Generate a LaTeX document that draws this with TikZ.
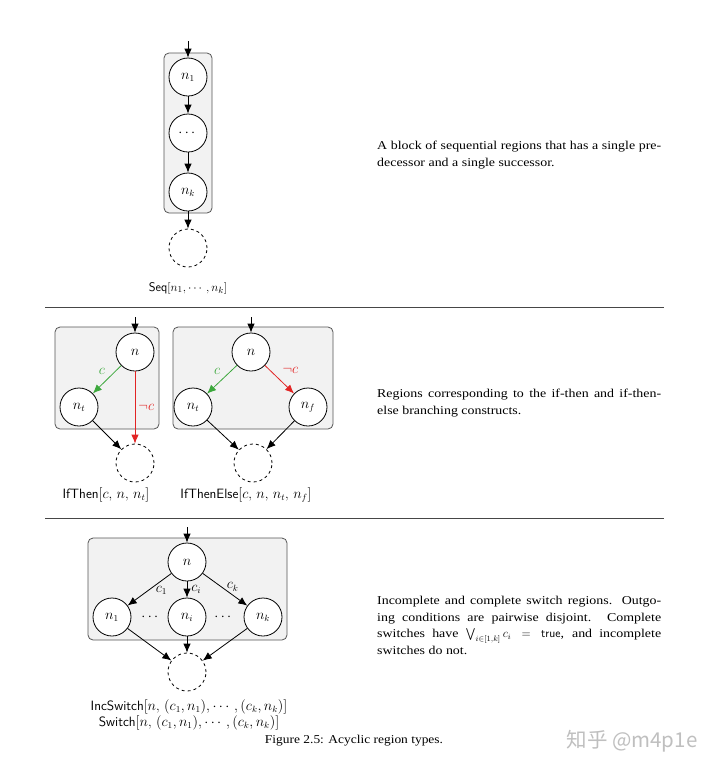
\documentclass[tikz,border=0pt]{standalone}
\usepackage{amsmath,amssymb}
\usepackage{fontspec}
\usetikzlibrary{arrows.meta}
\newfontfamily\parafont[FakeStretch=1.16]{Liberation Serif}
\newfontfamily\capfont[FakeStretch=1.12]{Liberation Serif}
\newfontfamily\cjkfont{Noto Sans CJK SC}
\definecolor{condgreen}{RGB}{60,168,60}
\definecolor{condred}{RGB}{226,36,36}
\definecolor{regionfill}{RGB}{242,242,242}
\definecolor{regionline}{RGB}{85,85,85}
\definecolor{rulecol}{RGB}{70,70,70}
\tikzset{
  st/.style={circle, draw, fill=white, minimum size=38pt, inner sep=0pt, line width=0.8pt},
  ghost/.style={circle, draw, dash pattern=on 3pt off 3pt, minimum size=38pt, inner sep=0pt, line width=0.8pt},
  region/.style={draw=regionline, fill=regionfill, rounded corners=5pt, line width=0.8pt, inner sep=0pt},
  arr/.style={-{Latex[length=9pt,width=7.5pt]}, line width=0.8pt},
  para/.style={font=\parafont\fontsize{12}{16.5}\selectfont, text width=284pt, align=justify, inner sep=0pt, anchor=north west},
  sectrule/.style={draw=rulecol, line width=0.8pt},
  lbl/.style={inner sep=3pt},
}
\begin{document}
\begin{tikzpicture}[x=1pt,y=-1pt, font=\fontsize{13.5}{15}\selectfont]
\useasboundingbox[fill=white] (0,0) rectangle (720,772);

% ---------- Seq ----------
\node[region, minimum width=48pt, minimum height=160pt] (seqbox) at (188,133) {};
\node[st] (s1) at (188,77) {$n_1$};
\node[st] (s2) at (188,133) {$\cdots$};
\node[st] (sk) at (188,192) {$n_k$};
\node[ghost] (sx) at (188,248) {};
\coordinate (sin) at (188,41);
\draw[arr] (sin) -- (s1);
\draw[arr] (s1) -- (s2);
\draw[arr] (s2) -- (sk);
\draw[arr] (sk) -- (sx);
\node[font=\fontsize{12.5}{14}\selectfont] (seqlbl) at (188,288) {\textsf{Seq}$[n_1, \cdots, n_k]$};

\node[para] (p1) at (377,141) {A block of sequential regions that has a single pre-\linebreak decessor and a single successor.};

\draw[sectrule] (45,307) -- (664,307);

% ---------- IfThen ----------
\node[region, minimum width=104pt, minimum height=102pt] (itbox) at (107,378) {};
\node[st] (itn) at (135,352) {$n$};
\node[st] (itt) at (79,407) {$n_t$};
\node[ghost] (itx) at (135,463) {};
\coordinate (itin) at (135,317);
\draw[arr] (itin) -- (itn);
\draw[arr, condgreen] (itn) -- node[lbl, pos=0.45, above left] {$c$} (itt);
\draw[arr, condred] (itn) -- node[lbl, pos=0.5, right] {$\neg c$} (itx);
\draw[arr] (itt) -- (itx);
\node (itlbl) at (106,495) {\textsf{IfThen}$[c$, $n$, $n_t]$};

% ---------- IfThenElse ----------
\node[region, minimum width=160pt, minimum height=102pt] (itebox) at (253,378) {};
\node[st] (iten) at (251,352) {$n$};
\node[st] (itet) at (193,407) {$n_t$};
\node[st] (itef) at (308,407) {$n_f$};
\node[ghost] (itex) at (253,463) {};
\coordinate (itein) at (251,317);
\draw[arr] (itein) -- (iten);
\draw[arr, condgreen] (iten) -- node[lbl, pos=0.45, above left] {$c$} (itet);
\draw[arr, condred] (iten) -- node[lbl, pos=0.42, above right, xshift=2pt] {$\neg c$} (itef);
\draw[arr] (itet) -- (itex);
\draw[arr] (itef) -- (itex);
\node (itelbl) at (246,495) {\textsf{IfThenElse}$[c$, $n$, $n_t$, $n_f]$};

\node[para] (p2) at (377,389) {Regions corresponding to the if-then and if-then-\linebreak else branching constructs.};

\draw[sectrule] (45,518) -- (664,518);

% ---------- Switch ----------
\node[region, minimum width=199pt, minimum height=102pt] (swbox) at (187.5,589) {};
\node[st] (swn) at (187,562) {$n$};
\node[st] (sw1) at (112,617) {$n_1$};
\node[st] (swi) at (187,617) {$n_i$};
\node[st] (swk) at (263,617) {$n_k$};
\node (swd1) at (151,617) {$\cdots$};
\node (swd2) at (224,617) {$\cdots$};
\node[ghost] (swx) at (187,672) {};
\coordinate (swin) at (187,527);
\draw[arr] (swin) -- (swn);
\draw[arr] (swn) -- node[lbl, pos=0.5, anchor=west, xshift=3pt, yshift=-1pt] {$c_1$} (sw1);
\draw[arr] (swn) -- node[lbl, pos=0.5, anchor=west, xshift=1pt] {$c_i$} (swi);
\draw[arr] (swn) -- node[lbl, pos=0.42, anchor=west, xshift=2pt] {$c_k$} (swk);
\draw[arr] (sw1) -- (swx);
\draw[arr] (swi) -- (swx);
\draw[arr] (swk) -- (swx);
\node (swlbl1) at (189,707) {\textsf{IncSwitch}$[n$, $(c_1, n_1), \cdots, (c_k, n_k)]$};
\node (swlbl2) at (189,723) {\textsf{Switch}$[n$, $(c_1, n_1), \cdots, (c_k, n_k)]$};

\node[para] (p3) at (377,596) {Incomplete and complete switch regions. Outgo-\linebreak ing conditions are pairwise disjoint. Complete\linebreak switches have $\bigvee_{i\in[1,k]} c_i = \textsf{true}$, and incomplete\linebreak switches do not.};

% ---------- caption & mark ----------
\node[font=\capfont\fontsize{12}{15}\selectfont] (cap) at (354,741) {Figure 2.5: Acyclic region types.};
\node[text=black!25, font=\cjkfont\fontsize{20.5}{22}\selectfont] (wm) at (632,741) {知乎 @m4p1e};
\end{tikzpicture}
\end{document}
